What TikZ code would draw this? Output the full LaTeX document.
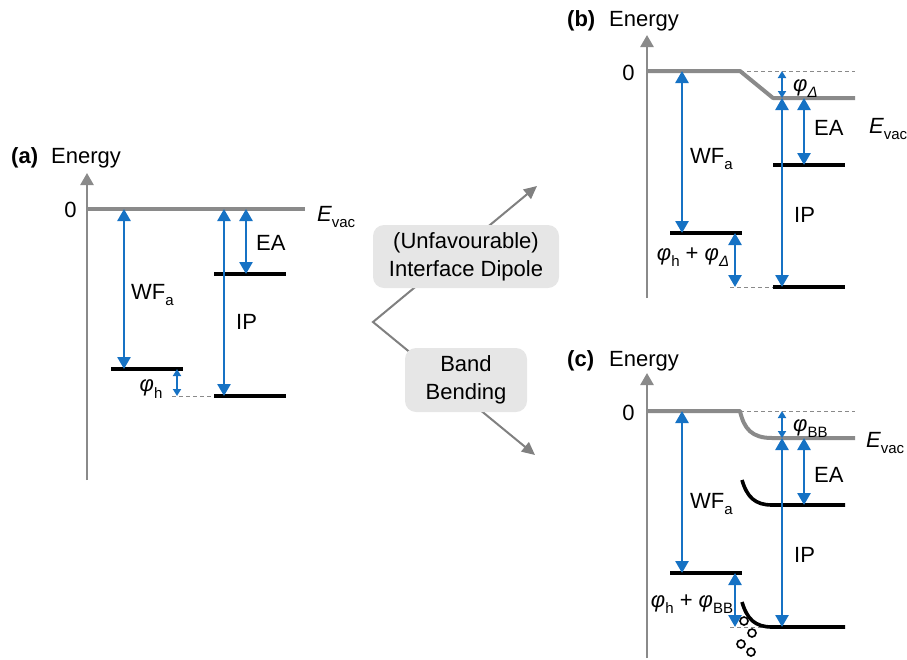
\documentclass[tikz,border=0pt]{standalone}
\usepackage{fontspec}
\setmainfont{Liberation Sans}
\usetikzlibrary{arrows.meta}
\definecolor{myblue}{RGB}{22,114,196}
\definecolor{lvgray}{RGB}{138,138,138}
\definecolor{midgray}{RGB}{128,128,128}
\definecolor{boxgray}{RGB}{230,230,230}
\newcommand\sbx[1]{\raisebox{-0.3em}{\fontsize{15}{15}\selectfont #1}}
\newcommand\phii{{\itshape φ}}
\begin{document}
\begin{tikzpicture}[x=1pt,y=-1pt,
  lbl/.style={font=\fontsize{22}{26}\selectfont, inner sep=0pt},
  lvl/.style={line width=3.6pt, draw=black},
  vacln/.style={line width=4pt, draw=lvgray, line join=round},
  axisln/.style={line width=2.5pt, draw=lvgray, -{Triangle[length=12pt,width=13pt]}},
  dsh/.style={draw=lvgray, line width=1pt, dash pattern=on 4pt off 3pt},
  blarr/.style={draw=myblue, line width=2.6pt, {Triangle[length=12pt,width=13pt]}-{Triangle[length=12pt,width=13pt]}},
  blsm/.style={draw=myblue, line width=1.8pt, {Triangle[length=7pt,width=8pt]}-{Triangle[length=7pt,width=8pt]}},
  midarr/.style={draw=midgray, line width=2pt, line join=miter, {Triangle[length=13pt,width=12pt]}-{Triangle[length=13pt,width=12pt]}},
  pbox/.style={fill=boxgray, rounded corners=11pt, align=center, font=\fontsize{22}{28}\selectfont, inner sep=0pt},
  hole/.style={draw=black, line width=1.6pt}
]
\useasboundingbox (0,0) rectangle (907,659);

% ---------------- panel (a)
\node[lbl, anchor=base west, font=\fontsize{22}{26}\selectfont\bfseries] (alab) at (11,163) {(a)};
\node[lbl, anchor=base west] (aen) at (51,163) {Energy};
\draw[axisln] (87,480) -- (87,173);
\draw[vacln] (87,209) -- (305,209);
\node[lbl] (azero) at (70.5,209.5) {0};
\node[lbl, anchor=base west] (aevac) at (317,221) {\itshape E\sbx{\upshape vac}};
\draw[dsh] (172,396) -- (214,396);
\draw[lvl] (111,369) -- (183,369);
\draw[lvl] (214,274) -- (286,274);
\draw[lvl] (214,396) -- (286,396);
\draw[blarr] (124,209) -- (124,369);
\draw[blarr] (224,209) -- (224,396);
\draw[blarr] (246,209) -- (246,274);
\draw[blsm] (177,369) -- (177,396);
\node[lbl, anchor=base west] (awf) at (131,299) {WF\sbx{a}};
\node[lbl, anchor=base west] (aea) at (256,250) {EA};
\node[lbl, anchor=base west] (aip) at (236,329) {IP};
\node[lbl] (aphi) at (151,389) {\phii\sbx{h}};

% ---------------- middle
\coordinate (vtx) at (373,322);
\coordinate (tipb) at (537,186);
\coordinate (tipc) at (535,455);
\draw[midarr] (tipb) -- (vtx) -- (tipc);
\node[pbox, minimum width=186pt, minimum height=63pt] (dip) at (466,256.5) {(Unfavourable)\\Interface Dipole};
\node[pbox, minimum width=122pt, minimum height=64pt] (bb) at (466,380) {Band\\Bending};

% ---------------- panel (b)
\node[lbl, anchor=base west, font=\fontsize{22}{26}\selectfont\bfseries] (blab) at (567,26) {(b)};
\node[lbl, anchor=base west] (ben) at (609,26) {Energy};
\draw[axisln] (647,298) -- (647,35);
\draw[dsh] (740,71) -- (855,71);
\draw[vacln] (647,71) -- (740,71) -- (773,98) -- (855,98);
\node[lbl] (bzero) at (628.5,72.5) {0};
\node[lbl, anchor=base west] (bevac) at (869,133) {\itshape E\sbx{\upshape vac}};
\draw[dsh] (730,287) -- (773,287);
\draw[lvl] (670,233) -- (742,233);
\draw[lvl] (773,165) -- (845,165);
\draw[lvl] (773,287) -- (845,287);
\draw[blarr] (682,71) -- (682,233);
\draw[blarr] (735,233) -- (735,287);
\draw[blarr] (782,98) -- (782,287);
\draw[blarr] (804,98) -- (804,165);
\draw[blsm] (782,71) -- (782,98);
\node[lbl, anchor=base west] (bwf) at (690,163) {WF\sbx{a}};
\node[lbl, anchor=base west] (bea) at (814,135) {EA};
\node[lbl, anchor=base west] (bip) at (794,222) {IP};
\node[lbl, anchor=base west] (bphid) at (793,91) {\phii\sbx{\itshape Δ}};
\node[lbl] (bphih) at (693,257) {\phii\sbx{h} + \phii\sbx{\itshape Δ}};

% ---------------- panel (c)
\node[lbl, anchor=base west, font=\fontsize{22}{26}\selectfont\bfseries] (clab) at (567,366) {(c)};
\node[lbl, anchor=base west] (cen) at (609,366) {Energy};
\draw[axisln] (647,658) -- (647,373);
\draw[dsh] (740,411) -- (855,411);
\draw[vacln] (647,411) -- (740,411) .. controls (744,429) and (752,438) .. (772,438) -- (855,438);
\node[lbl] (czero) at (628.5,412.5) {0};
\node[lbl, anchor=base west] (cevac) at (866,447) {\itshape E\sbx{\upshape vac}};
\draw[dsh] (730,627) -- (773,627);
\draw[lvl] (670,573) -- (742,573);
\draw[lvl] (742,480) .. controls (747,497) and (755,505) .. (772,505) -- (845,505);
\draw[lvl] (742,602) .. controls (747,619) and (755,627) .. (772,627) -- (845,627);
\draw[blarr] (682,411) -- (682,573);
\draw[blarr] (735,573) -- (735,627);
\draw[blarr] (782,438) -- (782,627);
\draw[blarr] (804,438) -- (804,505);
\draw[blsm] (782,411) -- (782,438);
\node[lbl, anchor=base west] (cwf) at (690,508) {WF\sbx{a}};
\node[lbl, anchor=base west] (cea) at (814,482) {EA};
\node[lbl, anchor=base west] (cip) at (794,562) {IP};
\node[lbl, anchor=base west] (cphib) at (793,431) {\phii\sbx{BB}};
\node[lbl] (cphih) at (692,604) {\phii\sbx{h} + \phii\sbx{BB}};
\draw[hole] (744,621) circle[radius=4];
\draw[hole] (752,633) circle[radius=4];
\draw[hole] (741,644) circle[radius=4];
\draw[hole] (751,652) circle[radius=4];
\end{tikzpicture}
\end{document}
